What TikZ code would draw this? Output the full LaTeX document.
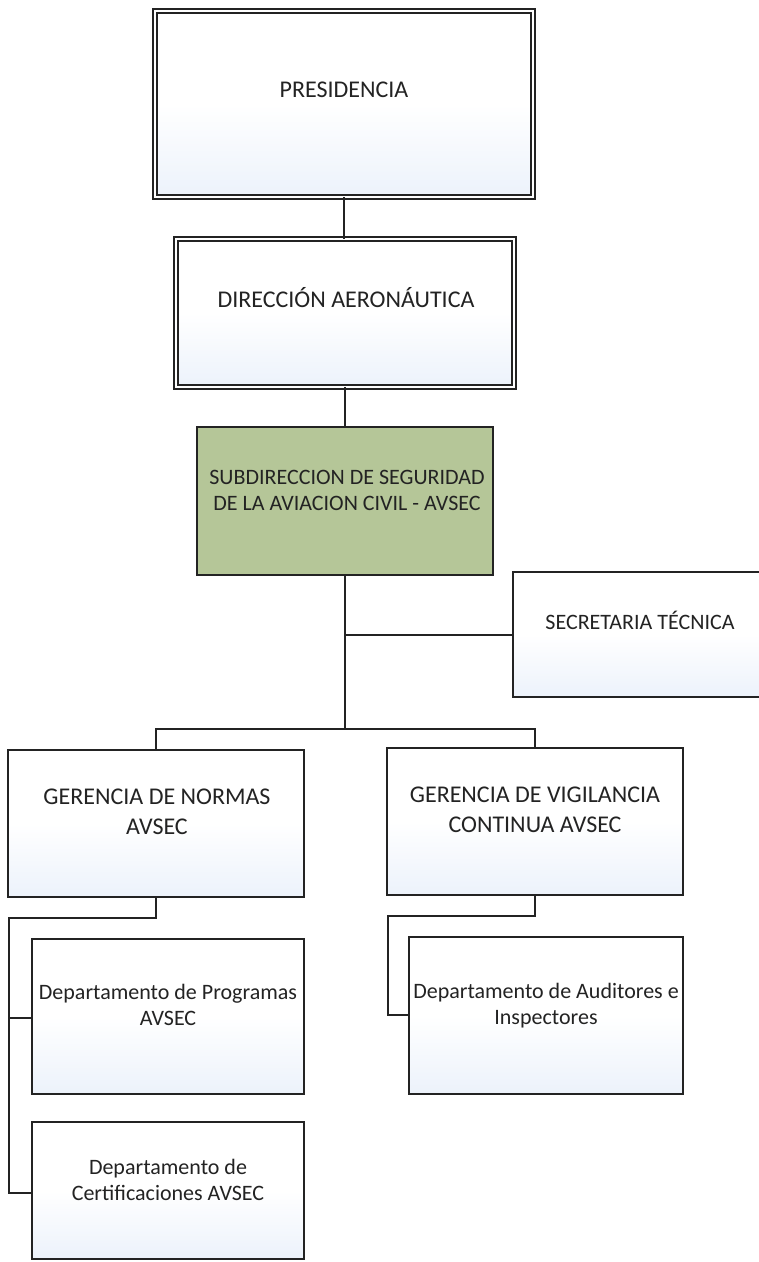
\documentclass[tikz,border=0pt]{standalone}
\usepackage{fontspec}
\setmainfont{Carlito}
\definecolor{ink}{RGB}{35,35,35}
\definecolor{boxblue}{RGB}{236,242,251}
\definecolor{avsecgreen}{RGB}{181,198,152}
\begin{document}
\begin{tikzpicture}[x=1pt,y=-1pt,
  box/.style={draw=ink, line width=1.8pt, inner sep=0pt, outer sep=0pt,
    top color=white, bottom color=boxblue, middle color=white},
  dbox/.style={box, line width=1.3pt, double=white, double distance=2.5pt},
  greenbox/.style={draw=ink, line width=1.8pt, inner sep=0pt, outer sep=0pt, fill=avsecgreen},
  conn/.style={draw=ink, line width=1.8pt},
  bigtxt/.style={text=ink, inner sep=0pt, align=center, font=\fontsize{24}{30}\selectfont},
  smalltxt/.style={text=ink, inner sep=0pt, align=center, font=\fontsize{22}{26}\selectfont}]
\useasboundingbox (0,0) rectangle (759,1262);

% boxes
\node[dbox, minimum width=378pt, minimum height=186pt] (pres) at (344,104) {};
\node[dbox, minimum width=338pt, minimum height=148pt] (dir) at (345,313) {};
\node[greenbox, minimum width=296pt, minimum height=148pt] (sub) at (345,501) {};
\node[box, minimum width=254pt, minimum height=125pt] (sec) at (640,634.5) {};
\node[box, minimum width=296pt, minimum height=147pt] (ger1) at (156,823.5) {};
\node[box, minimum width=296pt, minimum height=147pt] (ger2) at (535,821.5) {};
\node[box, minimum width=272pt, minimum height=155pt] (prog) at (168,1016.5) {};
\node[box, minimum width=272pt, minimum height=137pt] (cert) at (168,1190.5) {};
\node[box, minimum width=274pt, minimum height=157pt] (aud) at (546,1015.5) {};

% texts
\node[bigtxt] (presT) at (344,90) {PRESIDENCIA};
\node[bigtxt] (dirT) at (346,298) {DIRECCIÓN AERONÁUTICA};
\node[smalltxt] (subT) at (347,490) {SUBDIRECCION DE SEGURIDAD\\DE LA AVIACION CIVIL - AVSEC};
\node[smalltxt] (secT) at (640,620) {SECRETARIA TÉCNICA};
\node[bigtxt] (ger1T) at (157,812) {GERENCIA DE NORMAS\\AVSEC};
\node[bigtxt] (ger2T) at (535,810) {GERENCIA DE VIGILANCIA\\CONTINUA AVSEC};
\node[smalltxt] (progT) at (168,1005) {Departamento de Programas\\AVSEC};
\node[smalltxt] (certT) at (168,1180) {Departamento de\\Certificaciones AVSEC};
\node[smalltxt] (audT) at (546,1006) {Departamento de Auditores e\\Inspectores};

% connectors
\coordinate (jsec) at (345,635);
\coordinate (j1) at (345,729);
\draw[conn] (pres.south) -- (pres.south |- dir.north);
\draw[conn] (dir.south) -- (sub.north);
\draw[conn] (sub.south) -- (j1);
\draw[conn] (jsec) -- (jsec -| sec.west);
\draw[conn] (ger1.north) -- (ger1.north |- j1) -- (ger2.north |- j1) -- (ger2.north);

\coordinate (l1) at (156,918);
\coordinate (l2) at (9,918);
\coordinate (l3) at (9,1193);
\coordinate (l4) at (9,1018);
\draw[conn] (ger1.south) -- (l1) -- (l2) -- (l3) -- (l3 -| cert.west);
\draw[conn] (l4) -- (l4 -| prog.west);

\coordinate (r1) at (535,916);
\coordinate (r2) at (388,916);
\coordinate (r3) at (388,1015);
\draw[conn] (ger2.south) -- (r1) -- (r2) -- (r3) -- (r3 -| aud.west);
\end{tikzpicture}
\end{document}
